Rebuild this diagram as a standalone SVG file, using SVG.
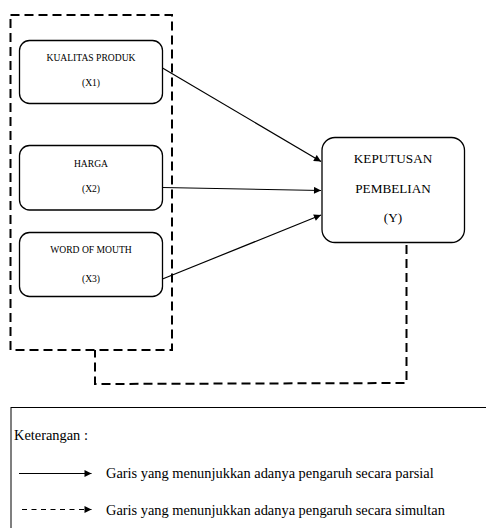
<svg xmlns="http://www.w3.org/2000/svg" width="486" height="528" viewBox="0 0 486 528">
<defs>
<style>
text{font-family:"Liberation Serif","Times New Roman",serif;fill:#000;text-anchor:middle}
.n{fill:#fff;stroke:#000;stroke-width:1.3}
.s{font-size:9.6px}
.y{font-size:13.2px}
.l{font-size:14.4px;text-anchor:start}
.c{fill:none;stroke:#000;stroke-width:1.2}
.d{fill:none;stroke:#000;stroke-width:2;stroke-dasharray:9 5}
.d2{fill:none;stroke:#000;stroke-width:1.2;stroke-dasharray:5 4.5}
</style>
<marker id="a" viewBox="0 0 10 10" refX="10" refY="5" markerWidth="8" markerHeight="7" markerUnits="userSpaceOnUse" orient="auto">
<path d="M0,0L10,5L0,10z" fill="#000"/>
</marker>
</defs>
<rect x="0" y="0" width="486" height="528" fill="#fff"/>
<g id="group-x">
<rect class="d" x="10.5" y="15" width="161.5" height="335"/>
</g>
<g id="x1">
<rect class="n" x="19.5" y="40.5" width="143" height="63" rx="10"/>
<text class="s" x="91" y="60.5">KUALITAS PRODUK</text>
<text class="s" x="91" y="85.5">(X1)</text>
</g>
<g id="x2">
<rect class="n" x="19.5" y="145.5" width="143" height="64.5" rx="10"/>
<text class="s" x="91" y="166.5">HARGA</text>
<text class="s" x="91" y="191.5">(X2)</text>
</g>
<g id="x3">
<rect class="n" x="19.5" y="232.5" width="143" height="64" rx="10"/>
<text class="s" x="91" y="252.5">WORD OF MOUTH</text>
<text class="s" x="91" y="281.5">(X3)</text>
</g>
<g id="y">
<rect class="n" x="322" y="137.5" width="142.5" height="105" rx="13"/>
<text class="y" x="393" y="162.5">KEPUTUSAN</text>
<text class="y" x="393" y="193">PEMBELIAN</text>
<text class="y" x="393" y="221.5">(Y)</text>
</g>
<g id="connectors">
<line class="c" x1="162.5" y1="68" x2="321" y2="161.5" marker-end="url(#a)"/>
<line class="c" x1="162.5" y1="187.5" x2="321" y2="190.5" marker-end="url(#a)"/>
<line class="c" x1="162.5" y1="279" x2="321" y2="215" marker-end="url(#a)"/>
<polyline class="d" points="406.5,245 406.5,383 95,384 95,350"/>
</g>
<g id="legend">
<rect x="11" y="407.5" width="500" height="200" fill="none" stroke="#000" stroke-width="1"/>
<text class="l" x="14" y="439.5">Keterangan :</text>
<line class="c" x1="19" y1="473.5" x2="91.5" y2="473.5" marker-end="url(#a)"/>
<text class="l" x="106" y="477.5">Garis yang menunjukkan adanya pengaruh secara parsial</text>
<line class="d2" x1="22" y1="509.5" x2="91.5" y2="509.5" marker-end="url(#a)"/>
<text class="l" x="106" y="515">Garis yang menunjukkan adanya pengaruh secara simultan</text>
</g>
</svg>
